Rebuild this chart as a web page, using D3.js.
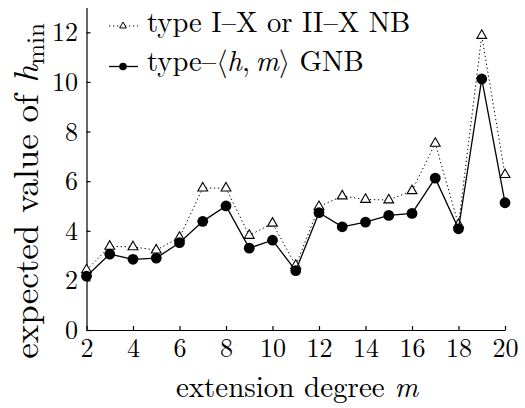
<!DOCTYPE html>
<html>
<head>
<meta charset="utf-8">
<script src="https://cdn.jsdelivr.net/npm/d3@7"></script>
<style>
  html, body { margin: 0; padding: 0; background: #fff; }
  svg { display: block; }
</style>
</head>
<body>
<svg id="chart" width="525" height="408"></svg>
<script>
// extension degree m
const degrees = [2, 3, 4, 5, 6, 7, 8, 9, 10, 11, 12, 13, 14, 15, 16, 17, 18, 19, 20];
// expected h_min, type I–X or II–X normal basis
const nbValues = [2.42, 3.37, 3.35, 3.22, 3.73, 5.72, 5.72, 3.81, 4.30, 2.60, 4.97, 5.40, 5.26, 5.24, 5.61, 7.52, 4.25, 11.87, 6.26];
// expected h_min, type-<h,m> Gaussian normal basis
const gnbValues = [2.17, 3.06, 2.85, 2.90, 3.52, 4.38, 5.00, 3.30, 3.62, 2.39, 4.73, 4.16, 4.35, 4.62, 4.70, 6.12, 4.08, 10.12, 5.13];
const xTicks = [2, 4, 6, 8, 10, 12, 14, 16, 18, 20];
const yTicks = [0, 2, 4, 6, 8, 10, 12];

const FONT = "Latin Modern Roman";
const MATH = "Latin Modern Math";

const svg = d3.select("#chart");

const x = d3.scaleLinear().domain([2, 20]).range([86.5, 505]);
const y = d3.scaleLinear().domain([0, 13]).range([330, 7.5]);

// axes: inward ticks, left and bottom only
const gx = svg.append("g")
  .attr("transform", `translate(0,${y(0)})`)
  .call(d3.axisBottom(x).tickValues(xTicks).tickSizeInner(-4).tickSizeOuter(0).tickFormat(d3.format("d")));
gx.selectAll("text").attr("y", 27).attr("dy", 0);

const gy = svg.append("g")
  .attr("transform", `translate(${x(2)},0)`)
  .call(d3.axisLeft(y).tickValues(yTicks).tickSizeInner(-4).tickSizeOuter(0).tickPadding(8.5).tickFormat(d3.format("d")));
gy.selectAll("text").attr("dy", "0.33em");

[gx, gy].forEach(g => g.attr("font-family", FONT).attr("font-size", 26));
svg.selectAll(".domain, .tick line").attr("stroke", "#000").attr("stroke-width", 1.2);

// axis titles
const xl = svg.append("text")
  .attr("x", 297).attr("y", 397)
  .attr("text-anchor", "middle")
  .attr("font-family", FONT)
  .attr("font-size", 29);
xl.append("tspan").text("extension degree ");
xl.append("tspan").attr("font-style", "italic").text("m");

const yl = svg.append("text")
  .attr("transform", "translate(38,191) rotate(-90)")
  .attr("text-anchor", "middle")
  .attr("font-family", FONT)
  .attr("font-size", 35);
yl.append("tspan").text("expected value of ");
yl.append("tspan").attr("font-style", "italic").text("h");
yl.append("tspan").attr("dy", 6).attr("font-size", 25).text("min");

// series
const line = d3.line().x((d, i) => x(degrees[i])).y(d => y(d));

svg.append("path")
  .datum(nbValues)
  .attr("d", line)
  .attr("fill", "none")
  .attr("stroke", "#000")
  .attr("stroke-width", 1)
  .attr("stroke-dasharray", "1.3,2.7");

const tri = d3.symbol().type(d3.symbolTriangle).size(42);
svg.append("g").selectAll("path")
  .data(nbValues)
  .join("path")
  .attr("d", tri)
  .attr("transform", (d, i) => `translate(${x(degrees[i])},${y(d)})`)
  .attr("fill", "#fff")
  .attr("stroke", "#000")
  .attr("stroke-width", 1.1);

svg.append("path")
  .datum(gnbValues)
  .attr("d", line)
  .attr("fill", "none")
  .attr("stroke", "#000")
  .attr("stroke-width", 1.3);

svg.append("g").selectAll("circle")
  .data(gnbValues)
  .join("circle")
  .attr("cx", (d, i) => x(degrees[i]))
  .attr("cy", d => y(d))
  .attr("r", 5.4)
  .attr("fill", "#000");

// legend
const legend = svg.append("g");
legend.append("line")
  .attr("x1", 109).attr("x2", 138).attr("y1", 26).attr("y2", 26)
  .attr("stroke", "#000").attr("stroke-width", 1).attr("stroke-dasharray", "1.3,2.7");
legend.append("path")
  .attr("d", d3.symbol().type(d3.symbolTriangle).size(20)())
  .attr("transform", "translate(123,26)")
  .attr("fill", "#fff").attr("stroke", "#000").attr("stroke-width", 1);
legend.append("text")
  .attr("x", 147).attr("y", 32)
  .attr("font-family", FONT)
  .attr("font-size", 28.6)
  .text("type I–X or II–X NB");

legend.append("line")
  .attr("x1", 109).attr("x2", 138).attr("y1", 66.5).attr("y2", 66.5)
  .attr("stroke", "#000").attr("stroke-width", 1.3);
legend.append("circle")
  .attr("cx", 123).attr("cy", 66.5).attr("r", 3.8).attr("fill", "#000");
const lt = legend.append("text")
  .attr("x", 147).attr("y", 71)
  .attr("font-family", FONT)
  .attr("font-size", 28.6);
lt.append("tspan").text("type–");
lt.append("tspan").attr("font-family", MATH).text("⟨");
lt.append("tspan").attr("font-style", "italic").text("h");
lt.append("tspan").text(",\u2009");
lt.append("tspan").attr("font-style", "italic").text("m");
lt.append("tspan").attr("font-family", MATH).text("⟩");
lt.append("tspan").text(" GNB");
</script>
</body>
</html>
